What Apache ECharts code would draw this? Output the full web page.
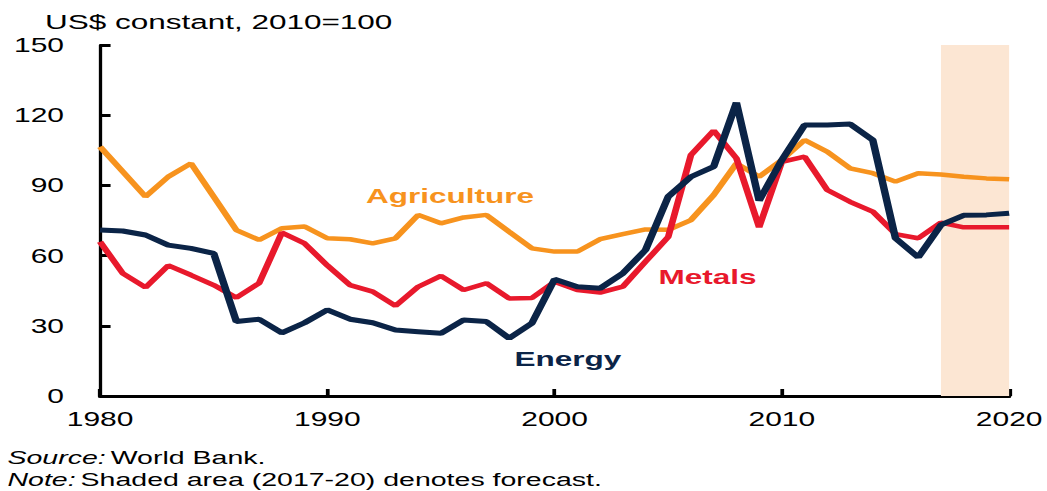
<!DOCTYPE html>
<html><head><meta charset="utf-8">
<script src="https://cdn.jsdelivr.net/npm/echarts@6/dist/echarts.min.js"></script>
<style>
html,body{margin:0;padding:0;background:#fff;overflow:hidden;width:1047px;height:491px}
#c{width:698px;height:491px;transform:scaleX(1.5);transform-origin:0 0}
</style>
</head><body><div id="c"></div>
<script>
var years = [];
for (var y = 1980; y <= 2020; y++) years.push(y);
var agriculture = [106.5,95.9,85.2,93.7,99.4,85.2,70.9,66.7,71.7,72.4,67.4,67,65.2,67.4,77.4,73.8,76.3,77.4,70.2,63.1,61.7,61.7,67,69.2,71.2,71,75.2,85.9,99.4,93.7,100.9,109.4,104.4,97.3,95.2,91.6,95.2,94.7,93.7,93,92.6];
var energy = [70.9,70.5,68.8,64.5,63.1,61,31.8,32.8,27,31.3,36.8,32.8,31.3,28.2,27.5,26.8,32.5,31.8,24.7,31.1,49.9,46.7,46,52.4,62.4,85.2,93.7,98,125.4,83.5,100.9,115.8,115.8,116.2,109.4,67.4,59.3,73.1,77.2,77.4,78.1];
var metals = [65.9,52.4,46.4,55.8,51.7,47.4,42,48.2,69.8,65.2,55.8,47.4,44.6,38.5,46.7,51.3,45.3,48.2,41.7,41.9,48.8,45.3,44.2,46.7,57.4,68,103,113.4,101.6,72.1,100.1,102.3,88,83,78.8,69.2,67.4,74.1,72.1,72.1,72.1];
var forecast = [2017, 2020];
var xTicks = [1980, 1990, 2000, 2010, 2020];
var yTicks = [0, 30, 60, 90, 120, 150];

function pairs(arr){ return years.map(function(y,i){ return [y, arr[i]]; }); }
var font = '"Liberation Sans", Arial, sans-serif';
var chart = echarts.init(document.getElementById('c'), null, {renderer:'svg'});
chart.setOption({
  animation:false,
  backgroundColor:'#fff',
  grid:{left:66.7, right:23, top:45, bottom:95},
  xAxis:{type:'value', min:xTicks[0], max:xTicks[xTicks.length-1], interval:10,
    axisLine:{onZero:false, lineStyle:{color:'#000', width:3}},
    axisTick:{inside:true, length:7, lineStyle:{color:'#000', width:2.5}},
    axisLabel:{color:'#000', fontSize:20, fontFamily:font, margin:13, formatter:function(v){return String(v);}},
    splitLine:{show:false}},
  yAxis:{type:'value', min:yTicks[0], max:yTicks[yTicks.length-1], interval:30,
    axisLine:{show:true, lineStyle:{color:'#000', width:2.2}},
    axisTick:{show:true, inside:true, length:7, lineStyle:{color:'#000', width:3}},
    axisLabel:{color:'#000', fontSize:20, fontFamily:font, margin:24},
    splitLine:{show:false}},
  series:[
    {name:'Agriculture', type:'line', data:pairs(agriculture), symbol:'none', z:3,
     lineStyle:{color:'#F7931E', width:4.5},
     markArea:{silent:true, itemStyle:{color:'#FCE6D3'}, data:[[{xAxis:forecast[0]},{xAxis:forecast[1]}]]}},
    {name:'Metals', type:'line', data:pairs(metals), symbol:'none', z:4,
     lineStyle:{color:'#E8192C', width:4.5}},
    {name:'Energy', type:'line', data:pairs(energy), symbol:'none', z:5,
     lineStyle:{color:'#0B2447', width:5}}
  ],
  graphic:[
    {type:'text', left:30, top:11, style:{text:'US$ constant, 2010=100', fill:'#000', font:'21px '+font}},
    {type:'text', left:244, top:185, style:{text:'Agriculture', fill:'#F7931E', font:'bold 21px '+font}},
    {type:'text', left:439, top:266, style:{text:'Metals', fill:'#E8192C', font:'bold 21px '+font}},
    {type:'text', left:343, top:348, style:{text:'Energy', fill:'#0B2447', font:'bold 21px '+font}},
    {type:'text', left:5, top:448, style:{rich:{i:{fontStyle:'italic', fontSize:19, fontFamily:font, fill:'#000'}, n:{fontSize:19, fontFamily:font, fill:'#000'}}, text:'{i|Source:} {n|World Bank.}'}},
    {type:'text', left:5, top:470, style:{rich:{i:{fontStyle:'italic', fontSize:19, fontFamily:font, fill:'#000'}, n:{fontSize:19, fontFamily:font, fill:'#000'}}, text:'{i|Note:} {n|Shaded area (2017-20) denotes forecast.}'}}
  ]
});
</script></body></html>
